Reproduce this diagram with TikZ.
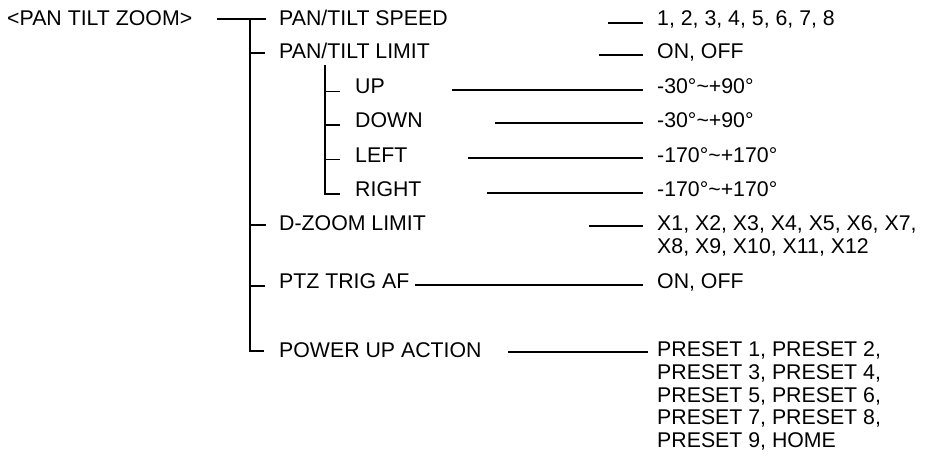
\documentclass[tikz,border=0pt]{standalone}
\usepackage{fontspec}
\setmainfont{Liberation Sans}
\usetikzlibrary{calc}
\begin{document}
\begin{tikzpicture}[x=1pt,y=-1pt,
  txt/.style={anchor=base west, inner sep=0pt, font=\fontsize{21.3}{23}\selectfont},
  multi/.style={anchor=north west, inner sep=0pt, align=left, font=\fontsize{21.3}{22.8}\selectfont},
  ln/.style={line width=1.6pt},
  conn/.style={ln, shorten >=14pt},
]
\useasboundingbox (0,0) rectangle (925,459);

% menu items
\node[txt] (root)  at (7,25.5)   {<PAN TILT ZOOM>};
\node[txt] (speed) at (279,25.5) {PAN/TILT SPEED};
\node[txt] (limit) at (279,58)   {PAN/TILT LIMIT};
\node[txt] (up)    at (355,93.5) {UP};
\node[txt] (down)  at (355,127.5){DOWN};
\node[txt] (left)  at (355,162)  {LEFT};
\node[txt] (right) at (355,196)  {RIGHT};
\node[txt] (dzoom) at (279,230.5){D-ZOOM LIMIT};
\node[txt] (ptz)   at (279,288.5){PTZ TRIG AF};
\node[txt] (power) at (279,357)  {POWER UP ACTION};

% values
\node[txt] (vspeed) at (657,25.5) {1, 2, 3, 4, 5, 6, 7, 8};
\node[txt] (vlimit) at (657,58)   {ON, OFF};
\node[txt] (vup)    at (657,93.5) {-30°\textasciitilde+90°};
\node[txt] (vdown)  at (657,127.5){-30°\textasciitilde+90°};
\node[txt] (vleft)  at (657,162)  {-170°\textasciitilde+170°};
\node[txt] (vright) at (657,196)  {-170°\textasciitilde+170°};
\node[multi] (vdzoom) at (657,215.5) {X1, X2, X3, X4, X5, X6, X7,\\X8, X9, X10, X11, X12};
\node[txt] (vptz)   at (657,288.5){ON, OFF};
\node[multi] (vpower) at (657,341.5) {PRESET 1, PRESET 2,\\PRESET 3, PRESET 4,\\PRESET 5, PRESET 6,\\PRESET 7, PRESET 8,\\PRESET 9, HOME};

% tree
\coordinate (rootL) at (217,19);
\coordinate (trunk) at (250,19);
\coordinate (trunkEnd) at (264,351);
\draw[ln] (rootL) -- ($(speed.base west)+(-13,-6.5)$);
\draw[ln] (trunk) |- (trunkEnd);
\draw[ln] (trunk |- 0,53)  -- (265,53);
\draw[ln] (trunk |- 0,225) -- (266,225);
\draw[ln] (trunk |- 0,286) -- (265,286);

\coordinate (sub) at (325,65);
\draw[ln] (sub) |- (340,194);
\draw[ln] (sub |- 0,91.5) -- (340,91.5);
\draw[ln] (sub |- 0,125)  -- (340,125);
\draw[ln] (sub |- 0,159.5)-- (340,159.5);

% connectors
\coordinate (c1) at (608,23);
\coordinate (c2) at (599,55);
\coordinate (c3) at (452,90);
\coordinate (c4) at (495,123);
\coordinate (c5) at (468,158);
\coordinate (c6) at (487,193);
\coordinate (c7) at (589,226);
\coordinate (c8) at (415,285);
\coordinate (c9) at (508,352);
\draw[conn] (c1) -- (c1 -| vspeed.west);
\draw[conn] (c2) -- (c2 -| vlimit.west);
\draw[conn] (c3) -- (c3 -| vup.west);
\draw[conn] (c4) -- (c4 -| vdown.west);
\draw[conn] (c5) -- (c5 -| vleft.west);
\draw[conn] (c6) -- (c6 -| vright.west);
\draw[conn] (c7) -- (c7 -| vdzoom.west);
\draw[conn] (c8) -- (c8 -| vptz.west);
\draw[ln, shorten >=9pt] (c9) -- (c9 -| vpower.west);
\end{tikzpicture}
\end{document}
